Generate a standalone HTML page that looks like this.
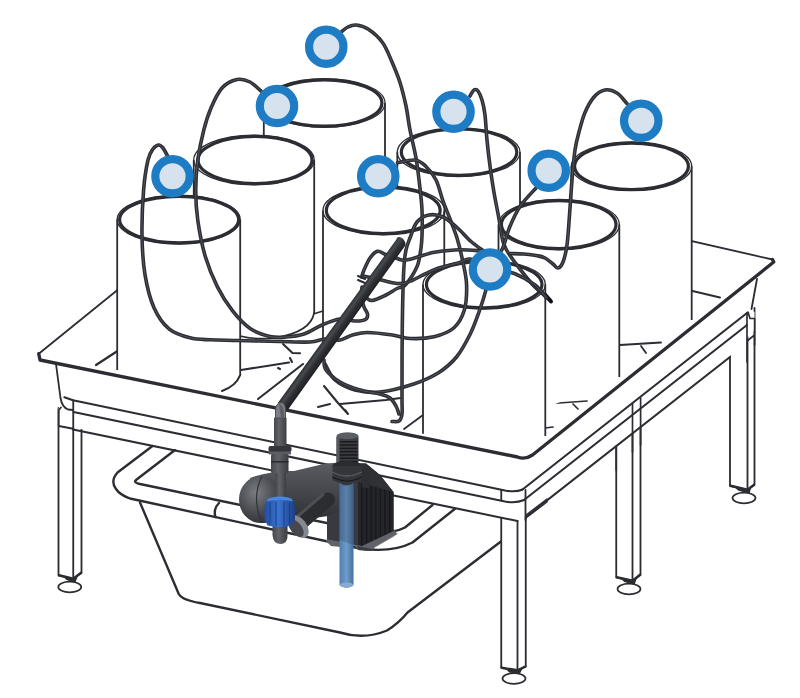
<!DOCTYPE html>
<html><head><meta charset="utf-8"><title>Diagram</title>
<style>
html,body{margin:0;padding:0;background:#fff;}
body{width:800px;height:698px;overflow:hidden;font-family:"Liberation Sans",sans-serif;}
svg{display:block;}
</style></head><body>
<svg width="800" height="698" viewBox="0 0 800 698">
<defs>
<linearGradient id="gPipeV" x1="0" x2="1" y1="0" y2="0">
<stop offset="0" stop-color="#45474c"/><stop offset="0.4" stop-color="#606368"/><stop offset="1" stop-color="#3b3d42"/>
</linearGradient>
<linearGradient id="gBlueTube" x1="0" x2="1" y1="0" y2="0">
<stop offset="0" stop-color="#4f7fb3"/><stop offset="0.5" stop-color="#6f9bc9"/><stop offset="1" stop-color="#456f9f"/>
</linearGradient>
<radialGradient id="gDome" cx="0.4" cy="0.35" r="0.7">
<stop offset="0" stop-color="#7a7d83"/><stop offset="0.6" stop-color="#4a4c51"/><stop offset="1" stop-color="#2e3034"/>
</radialGradient>
<linearGradient id="gBody" x1="0" x2="0" y1="0" y2="1">
<stop offset="0" stop-color="#5a5c61"/><stop offset="0.5" stop-color="#44464b"/><stop offset="1" stop-color="#2b2d31"/>
</linearGradient>
<linearGradient id="gBlue" x1="0" x2="1" y1="0" y2="0">
<stop offset="0" stop-color="#1f4fa3"/><stop offset="0.45" stop-color="#3b74d0"/><stop offset="1" stop-color="#1b3f86"/>
</linearGradient>
<linearGradient id="gBlackPipe" gradientUnits="userSpaceOnUse" x1="277.8" y1="402.9" x2="287.8" y2="410.1">
<stop offset="0" stop-color="#2b2d31"/><stop offset="0.28" stop-color="#474a4f"/><stop offset="0.55" stop-color="#2f3135"/><stop offset="1" stop-color="#1d1f22"/>
</linearGradient>
</defs>
<rect width="800" height="698" fill="#fff"/>
<ellipse cx="744.0" cy="498" rx="11.5" ry="5.3" fill="#fff" stroke="#2b2d33" stroke-width="1.7"/><path d="M734,486.5 L747.5,490.5 L751.5,486.5 L749.5,494 L738,490.5 Z" fill="#2b2d33"/><path d="M730,352 L730,486 L747.5,490 L754.5,485 L754.5,308 L747.5,312 Z" fill="#fff" stroke="none"/><path d="M730,352 L730,486 L747.5,490 L754.5,485 L754.5,308 M747.5,312 L747.5,490" fill="none" stroke="#2b2d33" stroke-width="1.82" stroke-linecap="round" stroke-linejoin="round" /><path d="M730.5,485.7 L747.5,489.7 L754.0,484.7" fill="none" stroke="#2b2d33" stroke-width="2.24" stroke-linecap="round" stroke-linejoin="round" />
<ellipse cx="629.0" cy="589" rx="11.5" ry="5.3" fill="#fff" stroke="#2b2d33" stroke-width="1.7"/><path d="M620.25,578.0 L632.5,581.5 L637.5,576.5 L634.5,585 L624.25,582.0 Z" fill="#2b2d33"/><path d="M616.25,446 L616.25,577.5 L632.5,581 L640.5,575 L640.5,398 L632.5,400 Z" fill="#fff" stroke="none"/><path d="M616.25,446 L616.25,577.5 L632.5,581 L640.5,575 L640.5,398 M632.5,400 L632.5,581" fill="none" stroke="#2b2d33" stroke-width="1.82" stroke-linecap="round" stroke-linejoin="round" /><path d="M616.75,577.2 L632.5,580.7 L640.0,574.7" fill="none" stroke="#2b2d33" stroke-width="2.24" stroke-linecap="round" stroke-linejoin="round" />
<ellipse cx="69.75" cy="587" rx="11.5" ry="5.3" fill="#fff" stroke="#2b2d33" stroke-width="1.7"/><path d="M62.5,576.0 L73.25,579.5 L78.5,574.5 L75.25,583 L66.5,580.0 Z" fill="#2b2d33"/><path d="M58.5,408 L58.5,575.5 L73.25,579 L81.5,573 L81.5,428 L73.25,400 Z" fill="#fff" stroke="none"/><path d="M58.5,408 L58.5,575.5 L73.25,579 L81.5,573 L81.5,428 M73.25,400 L73.25,579" fill="none" stroke="#2b2d33" stroke-width="1.82" stroke-linecap="round" stroke-linejoin="round" /><path d="M59.0,575.2 L73.25,578.7 L81.0,572.7" fill="none" stroke="#2b2d33" stroke-width="2.24" stroke-linecap="round" stroke-linejoin="round" />
<path d="M152.5,446 L117.5,472.5 Q110,481 116,489 Q120,495 130,498.5 L140,502.5 L178.75,594 Q182,600 200,603 L340,632.5 Q364,640 387,630.5 Q399,623 407.5,612.5 L501.25,541.25 L501,480 L200,420 Z" fill="#fff"/>
<path d="M152.5,446 L117.5,472.5 Q110,481 116,489 Q120,495 130,498.5 L360,548.5 Q392,553 412.5,542.5 L455,508.75" fill="none" stroke="#2b2d33" stroke-width="2.38" stroke-linecap="round" stroke-linejoin="round" />
<path d="M175,450 L136,480 Q133,482.5 140,484 L365,531 Q390,535 405,527.5 L432.5,505" fill="none" stroke="#2b2d33" stroke-width="2.38" stroke-linecap="round" stroke-linejoin="round" />
<path d="M140,502.5 L178.75,594 Q182,600 200,603 L340,632.5 Q364,640 387,630.5 Q399,623 407.5,612.5 L501.25,541.25" fill="none" stroke="#2b2d33" stroke-width="2.38" stroke-linecap="round" stroke-linejoin="round" />
<path d="M219,503 Q213,509 215.5,517" fill="none" stroke="#2b2d33" stroke-width="2.38" stroke-linecap="round" stroke-linejoin="round" />
<ellipse cx="514.0" cy="678.5" rx="11.5" ry="5.3" fill="#fff" stroke="#2b2d33" stroke-width="1.7"/><path d="M505.25,668.5 L517.5,671.0 L522.75,668.25 L519.5,674.5 L509.25,672.5 Z" fill="#2b2d33"/><path d="M501.25,491 L501.25,668 L517.5,670.5 L525.75,666.75 L525.75,490 L517.5,521 Z" fill="#fff" stroke="none"/><path d="M501.25,491 L501.25,668 L517.5,670.5 L525.75,666.75 L525.75,490 M517.5,521 L517.5,670.5" fill="none" stroke="#2b2d33" stroke-width="1.82" stroke-linecap="round" stroke-linejoin="round" /><path d="M501.75,667.7 L517.5,670.2 L525.25,666.45" fill="none" stroke="#2b2d33" stroke-width="2.24" stroke-linecap="round" stroke-linejoin="round" />
<path d="M40,360 L518,456.5 L532.5,455 L773.75,262 L756,280 L751,310 L754.5,312 L754.5,330 L730,356 L525,517.5 L517.5,521 L81,429 L73,428 L58.5,426 L58.5,409 L61,400 L56,364 Z" fill="#fff"/>
<path d="M56,364 L60.5,398 Q62,407 68,409.5 L73,410" fill="none" stroke="#2b2d33" stroke-width="1.82" stroke-linecap="round" stroke-linejoin="round" />
<path d="M58.75,426 L58.75,410 L61,407.5" fill="none" stroke="#2b2d33" stroke-width="1.82" stroke-linecap="round" stroke-linejoin="round" />
<path d="M58.75,426 L73.25,428.75" fill="none" stroke="#2b2d33" stroke-width="1.82" stroke-linecap="round" stroke-linejoin="round" />
<path d="M64.4,397.3 L73,400.2 L505,490.5 Q516,492.5 522.5,489.5" fill="none" stroke="#2b2d33" stroke-width="2.1" stroke-linecap="round" stroke-linejoin="round" />
<path d="M73.5,412 L505,501.5 Q516,503.5 524,500" fill="none" stroke="#2b2d33" stroke-width="2.1" stroke-linecap="round" stroke-linejoin="round" />
<path d="M73,429.5 L517.5,521" fill="none" stroke="#2b2d33" stroke-width="2.1" stroke-linecap="round" stroke-linejoin="round" />
<path d="M73.25,400.5 L73.25,428.75" fill="none" stroke="#2b2d33" stroke-width="1.82" stroke-linecap="round" stroke-linejoin="round" />
<path d="M522.5,489.5 L747,313" fill="none" stroke="#2b2d33" stroke-width="2.1" stroke-linecap="round" stroke-linejoin="round" />
<path d="M524,500 L747,325" fill="none" stroke="#2b2d33" stroke-width="2.1" stroke-linecap="round" stroke-linejoin="round" />
<path d="M525.75,517 L730,357" fill="none" stroke="#2b2d33" stroke-width="2.1" stroke-linecap="round" stroke-linejoin="round" />
<path d="M501.25,490 L501.25,500 M525.5,490 L525.5,520" fill="none" stroke="#2b2d33" stroke-width="1.82" stroke-linecap="round" stroke-linejoin="round" />
<path d="M757,279 L751.5,309" fill="none" stroke="#2b2d33" stroke-width="1.82" stroke-linecap="round" stroke-linejoin="round" />
<path d="M747,312.5 L747,362 M754.6,318.5 L754.6,345 M748,312 L750,318.5 L754.6,318.5 M754.6,335 L747,341" fill="none" stroke="#2b2d33" stroke-width="1.68" stroke-linecap="round" stroke-linejoin="round" />
<path d="M526,515 L547,499 L547,502 L526,518" fill="none" stroke="#2b2d33" stroke-width="1.4" stroke-linecap="round" stroke-linejoin="round" />
<path d="M632.5,403 L632.5,452 M640.6,398 L640.6,445 M616.25,446 L616.25,470" fill="none" stroke="#2b2d33" stroke-width="1.68" stroke-linecap="round" stroke-linejoin="round" />
<path d="M38.75,353.75 L290.7,149.7 L772.5,259.5 L773.75,262 L532.5,455 Q525,460 517.5,457 L40,360 Z" fill="#fff"/>
<path d="M38.75,353.75 L290.7,149.7 L772.5,259.5" fill="none" stroke="#2b2d33" stroke-width="1.82" stroke-linecap="round" stroke-linejoin="round" />
<path d="M96,365 L117.5,351" fill="none" stroke="#2b2d33" stroke-width="2.24" stroke-linecap="round" stroke-linejoin="round" />
<path d="M692.5,291 L720,297.5" fill="none" stroke="#2b2d33" stroke-width="1.96" stroke-linecap="round" stroke-linejoin="round" />
<path d="M620,345 L661,342.5 M641,346 L646,353" fill="none" stroke="#2b2d33" stroke-width="1.82" stroke-linecap="round" stroke-linejoin="round" />
<path d="M545,404 L587,401 M573,404 L578,409 M545,428 L553,427" fill="none" stroke="#2b2d33" stroke-width="1.68" stroke-linecap="round" stroke-linejoin="round" />
<path d="M404,429 L423,415" fill="none" stroke="#2b2d33" stroke-width="1.82" stroke-linecap="round" stroke-linejoin="round" />
<path d="M241,370 L289,362.5 M258,399 L303,364 M222,391 Q236,386 240.2,375" fill="none" stroke="#2b2d33" stroke-width="2.1" stroke-linecap="round" stroke-linejoin="round" />
<path d="M283,344 L292.5,353 L300,353.3 M290,358 L292,362 M278,368 L280,369" fill="none" stroke="#2b2d33" stroke-width="2.1" stroke-linecap="round" stroke-linejoin="round" />
<path d="M340,404 L386,400 L422,395 M324,386 L338,403 L348,414 M318,407 L330,404 M345,410 L348,414" fill="none" stroke="#2b2d33" stroke-width="2.1" stroke-linecap="round" stroke-linejoin="round" />
<path d="M314.2,282.5 L323,282.5 M314.2,313.75 L323,311" fill="none" stroke="#2b2d33" stroke-width="1.68" stroke-linecap="round" stroke-linejoin="round" />
<g><path d="M263.8,103 L263.8,300 L385,300 L385,103 A60.599999999999994,24.4 0 0 0 263.8,103 Z" fill="#fff" stroke="none"/><ellipse cx="324.4" cy="103" rx="60.599999999999994" ry="24.4" fill="#fff" stroke="#2b2d33" stroke-width="1.3"/><path d="M263.8,103 L263.8,300 M385,103 L385,300" fill="none" stroke="#2b2d33" stroke-width="1.8"/><ellipse cx="324.4" cy="103" rx="57.5" ry="23.2" fill="#fff" stroke="#2b2d33" stroke-width="3.2"/></g>
<g><path d="M397.3,152.2 L397.3,330 L520,330 L520,152.2 A61.349999999999994,24.4 0 0 0 397.3,152.2 Z" fill="#fff" stroke="none"/><ellipse cx="458.65" cy="152.2" rx="61.349999999999994" ry="24.4" fill="#fff" stroke="#2b2d33" stroke-width="1.3"/><path d="M397.3,152.2 L397.3,330 M520,152.2 L520,330" fill="none" stroke="#2b2d33" stroke-width="1.8"/><ellipse cx="459.1" cy="152.2" rx="57.75" ry="23.2" fill="#fff" stroke="#2b2d33" stroke-width="3.2"/></g>
<g><path d="M571.3,166.3 L571.3,345 L691.7,320 L691.7,166.3 A60.200000000000045,24.4 0 0 0 571.3,166.3 Z" fill="#fff" stroke="none"/><ellipse cx="631.5" cy="166.3" rx="60.200000000000045" ry="24.4" fill="#fff" stroke="#2b2d33" stroke-width="1.3"/><path d="M571.3,166.3 L571.3,345 M691.7,166.3 L691.7,320" fill="none" stroke="#2b2d33" stroke-width="1.8"/><ellipse cx="631.5" cy="166.3" rx="56.9" ry="23.2" fill="#fff" stroke="#2b2d33" stroke-width="3.2"/></g>
<g><path d="M193.75,160 L193.75,330 L314.2,313 L314.2,160 A60.224999999999994,24.8 0 0 0 193.75,160 Z" fill="#fff" stroke="none"/><ellipse cx="253.975" cy="160" rx="60.224999999999994" ry="24.8" fill="#fff" stroke="#2b2d33" stroke-width="1.3"/><path d="M193.75,160 L193.75,330 M314.2,160 L314.2,313" fill="none" stroke="#2b2d33" stroke-width="1.8"/><ellipse cx="255" cy="160" rx="57" ry="23.6" fill="#fff" stroke="#2b2d33" stroke-width="3.2"/><path d="M314.2,312.5 Q311,332 275,338 Q255,340 240,336" fill="none" stroke="#2b2d33" stroke-width="1.68" stroke-linecap="round" stroke-linejoin="round" /></g>
<g><path d="M323,210.4 L323,358 L444.3,420 L444.3,210.4 A60.650000000000006,24.4 0 0 0 323,210.4 Z" fill="#fff" stroke="none"/><ellipse cx="383.65" cy="210.4" rx="60.650000000000006" ry="24.4" fill="#fff" stroke="#2b2d33" stroke-width="1.3"/><path d="M323,210.4 L323,358 M444.3,210.4 L444.3,420" fill="none" stroke="#2b2d33" stroke-width="1.8"/><ellipse cx="383.25" cy="210.4" rx="56.9" ry="23.2" fill="#fff" stroke="#2b2d33" stroke-width="3.2"/><path d="M323,358 Q326,374 344,384 Q364,392 388,396" fill="none" stroke="#2b2d33" stroke-width="1.54" stroke-linecap="round" stroke-linejoin="round" /></g>
<g><path d="M498.5,224.55 L498.5,428 L619.3,377 L619.3,224.55 A60.39999999999998,25.2 0 0 0 498.5,224.55 Z" fill="#fff" stroke="none"/><ellipse cx="558.9" cy="224.55" rx="60.39999999999998" ry="25.2" fill="#fff" stroke="#2b2d33" stroke-width="1.3"/><path d="M498.5,224.55 L498.5,428 M619.3,224.55 L619.3,377" fill="none" stroke="#2b2d33" stroke-width="1.8"/><ellipse cx="558.7" cy="224.55" rx="57.3" ry="24" fill="#fff" stroke="#2b2d33" stroke-width="3.2"/></g>
<g><path d="M117.2,219.6 L117.2,370 L240.2,375 L240.2,219.6 A61.49999999999999,24.4 0 0 0 117.2,219.6 Z" fill="#fff" stroke="none"/><ellipse cx="178.7" cy="219.6" rx="61.49999999999999" ry="24.4" fill="#fff" stroke="#2b2d33" stroke-width="1.3"/><path d="M117.2,219.6 L117.2,370 M240.2,219.6 L240.2,375" fill="none" stroke="#2b2d33" stroke-width="1.8"/><ellipse cx="179.1" cy="219.6" rx="59.5" ry="23.2" fill="#fff" stroke="#2b2d33" stroke-width="3.2"/></g>
<g><path d="M423,284.6 L423,433.75 L545.3,436 L545.3,284.6 A61.14999999999998,24.4 0 0 0 423,284.6 Z" fill="#fff" stroke="none"/><ellipse cx="484.15" cy="284.6" rx="61.14999999999998" ry="24.4" fill="#fff" stroke="#2b2d33" stroke-width="1.3"/><path d="M423,284.6 L423,433.75 M545.3,284.6 L545.3,436" fill="none" stroke="#2b2d33" stroke-width="1.8"/><ellipse cx="484.2" cy="284.6" rx="57.75" ry="23.2" fill="#fff" stroke="#2b2d33" stroke-width="3.2"/></g>
<path d="M40,357 L517.5,453.5 Q525,456 532.5,449 L773.75,262 L532.5,455 Q525,460 517.5,457 L40,360 Z" fill="#fff"/>
<path d="M38.75,353.75 L40,360 L517.5,457 Q525,460 532.5,455 L773.75,262 L772.5,259.5" fill="none" stroke="#2b2d33" stroke-width="3.36" stroke-linecap="round" stroke-linejoin="round" />
<path d="M340,33 C341.3,32.0 345.3,28.3 348,27 C350.7,25.7 352.7,24.7 356,25 C359.3,25.3 363.6,26.1 368,29 C372.4,31.9 378.5,37.0 382.5,42.5 C386.5,48.0 389.1,55.3 392,62 C394.9,68.7 397.7,75.2 400,82.5 C402.3,89.8 404.3,98.1 406,106 C407.7,113.9 408.3,121.3 410,130 C411.7,138.7 414.4,149.0 416,158 C417.6,167.0 418.5,175.3 419.5,184 C420.5,192.7 421.6,201.3 422,210 C422.4,218.7 422.2,229.7 422,236 C421.8,242.3 421.7,243.3 421,248 C420.3,252.7 419.5,259.3 418,264 C416.5,268.7 414.3,272.3 412,276 C409.7,279.7 406.5,283.9 404,286 C401.5,288.1 400.2,286.9 397,288.5 C393.8,290.1 389.2,293.5 385,295.5 C380.8,297.5 375.3,300.2 372,300.5 C368.7,300.8 366.2,297.6 365,297" fill="none" stroke="#2b2d33" stroke-width="3.6" stroke-linecap="round" stroke-linejoin="round"/><path d="M340,33 C341.3,32.0 345.3,28.3 348,27 C350.7,25.7 352.7,24.7 356,25 C359.3,25.3 363.6,26.1 368,29 C372.4,31.9 378.5,37.0 382.5,42.5 C386.5,48.0 389.1,55.3 392,62 C394.9,68.7 397.7,75.2 400,82.5 C402.3,89.8 404.3,98.1 406,106 C407.7,113.9 408.3,121.3 410,130 C411.7,138.7 414.4,149.0 416,158 C417.6,167.0 418.5,175.3 419.5,184 C420.5,192.7 421.6,201.3 422,210 C422.4,218.7 422.2,229.7 422,236 C421.8,242.3 421.7,243.3 421,248 C420.3,252.7 419.5,259.3 418,264 C416.5,268.7 414.3,272.3 412,276 C409.7,279.7 406.5,283.9 404,286 C401.5,288.1 400.2,286.9 397,288.5 C393.8,290.1 389.2,293.5 385,295.5 C380.8,297.5 375.3,300.2 372,300.5 C368.7,300.8 366.2,297.6 365,297" fill="none" stroke="#63666d" stroke-width="0.7" stroke-linecap="round" stroke-linejoin="round"/>
<path d="M262,92 C260.0,90.3 254.2,84.1 250,82 C245.8,79.9 241.7,78.5 237,79.5 C232.3,80.5 226.3,83.2 222,88 C217.7,92.8 214.0,101.0 211,108 C208.0,115.0 206.0,121.3 203.8,130 C201.6,138.7 199.2,150.0 197.8,160 C196.5,170.0 195.7,179.9 195.7,190 C195.7,200.1 196.2,209.3 197.8,220.4 C199.4,231.5 202.1,245.5 205.3,256.5 C208.6,267.5 212.8,277.6 217.3,286.6 C221.8,295.6 226.9,303.7 232.4,310.7 C237.9,317.7 244.2,324.5 250.5,328.8 C256.8,333.1 264.1,335.1 270,336.5 C275.9,337.9 280.3,337.4 286,337 C291.7,336.6 298.0,336.0 304,334 C310.0,332.0 316.0,327.5 322,325 C328.0,322.5 334.5,319.7 340,319 C345.5,318.3 350.8,320.9 355,321 C359.2,321.1 363.4,320.7 365.5,319.5 C367.6,318.3 367.8,316.1 367.5,314 C367.2,311.9 365.0,309.8 364,307 C363.0,304.2 361.8,300.3 361.5,297 C361.2,293.7 361.9,288.7 362,287" fill="none" stroke="#2b2d33" stroke-width="3.6" stroke-linecap="round" stroke-linejoin="round"/><path d="M262,92 C260.0,90.3 254.2,84.1 250,82 C245.8,79.9 241.7,78.5 237,79.5 C232.3,80.5 226.3,83.2 222,88 C217.7,92.8 214.0,101.0 211,108 C208.0,115.0 206.0,121.3 203.8,130 C201.6,138.7 199.2,150.0 197.8,160 C196.5,170.0 195.7,179.9 195.7,190 C195.7,200.1 196.2,209.3 197.8,220.4 C199.4,231.5 202.1,245.5 205.3,256.5 C208.6,267.5 212.8,277.6 217.3,286.6 C221.8,295.6 226.9,303.7 232.4,310.7 C237.9,317.7 244.2,324.5 250.5,328.8 C256.8,333.1 264.1,335.1 270,336.5 C275.9,337.9 280.3,337.4 286,337 C291.7,336.6 298.0,336.0 304,334 C310.0,332.0 316.0,327.5 322,325 C328.0,322.5 334.5,319.7 340,319 C345.5,318.3 350.8,320.9 355,321 C359.2,321.1 363.4,320.7 365.5,319.5 C367.6,318.3 367.8,316.1 367.5,314 C367.2,311.9 365.0,309.8 364,307 C363.0,304.2 361.8,300.3 361.5,297 C361.2,293.7 361.9,288.7 362,287" fill="none" stroke="#63666d" stroke-width="0.7" stroke-linecap="round" stroke-linejoin="round"/>
<path d="M167.6,156 C166.8,154.7 164.5,149.8 163,148 C161.5,146.2 160.3,144.8 158.6,145 C156.9,145.2 154.8,146.5 153,149 C151.2,151.5 149.6,153.2 148,160 C146.4,166.8 144.6,177.5 143.6,190 C142.6,202.5 141.8,220.9 142,235 C142.2,249.1 143.0,262.5 145,274.6 C147.0,286.7 150.0,298.7 154,307.7 C158.0,316.7 163.0,323.8 169,328.8 C175.0,333.8 183.2,336.0 190,337.8 C196.8,339.6 202.0,339.4 210,339.8 C218.0,340.2 226.3,340.2 238,340.5 C249.7,340.8 268.0,341.2 280,341.5 C292.0,341.8 302.5,342.4 310,342 C317.5,341.6 320.0,339.3 325,339 C330.0,338.7 335.4,340.7 340,340 C344.6,339.3 347.9,336.2 352.5,335 C357.1,333.8 360.8,332.5 367.5,332.5 C374.2,332.5 385.4,334.0 392.5,335 C399.6,336.0 403.1,338.2 410,338.5 C416.9,338.8 426.7,338.5 434,336.75 C441.3,335.0 448.9,332.2 454,327.75 C459.1,323.2 462.3,316.9 464.4,309.75 C466.5,302.6 466.8,292.9 466.6,285 C466.4,277.1 464.6,270.3 463,262.5 C461.4,254.7 459.2,245.2 457,238 C454.8,230.8 452.3,225.2 450,219 C447.7,212.8 445.3,207.5 443,201 C440.7,194.5 438.9,185.8 436,180 C433.1,174.2 429.0,169.3 425.5,166 C422.0,162.7 419.7,160.5 415,160 C410.3,159.5 400.4,162.3 397.5,162.75" fill="none" stroke="#2b2d33" stroke-width="3.6" stroke-linecap="round" stroke-linejoin="round"/><path d="M167.6,156 C166.8,154.7 164.5,149.8 163,148 C161.5,146.2 160.3,144.8 158.6,145 C156.9,145.2 154.8,146.5 153,149 C151.2,151.5 149.6,153.2 148,160 C146.4,166.8 144.6,177.5 143.6,190 C142.6,202.5 141.8,220.9 142,235 C142.2,249.1 143.0,262.5 145,274.6 C147.0,286.7 150.0,298.7 154,307.7 C158.0,316.7 163.0,323.8 169,328.8 C175.0,333.8 183.2,336.0 190,337.8 C196.8,339.6 202.0,339.4 210,339.8 C218.0,340.2 226.3,340.2 238,340.5 C249.7,340.8 268.0,341.2 280,341.5 C292.0,341.8 302.5,342.4 310,342 C317.5,341.6 320.0,339.3 325,339 C330.0,338.7 335.4,340.7 340,340 C344.6,339.3 347.9,336.2 352.5,335 C357.1,333.8 360.8,332.5 367.5,332.5 C374.2,332.5 385.4,334.0 392.5,335 C399.6,336.0 403.1,338.2 410,338.5 C416.9,338.8 426.7,338.5 434,336.75 C441.3,335.0 448.9,332.2 454,327.75 C459.1,323.2 462.3,316.9 464.4,309.75 C466.5,302.6 466.8,292.9 466.6,285 C466.4,277.1 464.6,270.3 463,262.5 C461.4,254.7 459.2,245.2 457,238 C454.8,230.8 452.3,225.2 450,219 C447.7,212.8 445.3,207.5 443,201 C440.7,194.5 438.9,185.8 436,180 C433.1,174.2 429.0,169.3 425.5,166 C422.0,162.7 419.7,160.5 415,160 C410.3,159.5 400.4,162.3 397.5,162.75" fill="none" stroke="#63666d" stroke-width="0.7" stroke-linecap="round" stroke-linejoin="round"/>
<path d="M470,96 C470.7,95.0 472.7,90.8 474,90 C475.3,89.2 476.7,89.3 478,91 C479.3,92.7 480.8,96.0 482,100 C483.2,104.0 484.2,108.3 485,115 C485.8,121.7 486.2,131.5 487,140 C487.8,148.5 488.8,157.2 490,166 C491.2,174.8 492.5,183.7 494,192.5 C495.5,201.3 497.6,211.1 499,219 C500.4,226.9 501.4,235.0 502.6,240 C503.8,245.0 503.9,245.2 506,249 C508.1,252.8 510.5,256.5 515,262.5 C519.5,268.5 527.2,278.8 533,285 C538.8,291.2 547.2,297.5 550,300" fill="none" stroke="#2b2d33" stroke-width="3.6" stroke-linecap="round" stroke-linejoin="round"/><path d="M470,96 C470.7,95.0 472.7,90.8 474,90 C475.3,89.2 476.7,89.3 478,91 C479.3,92.7 480.8,96.0 482,100 C483.2,104.0 484.2,108.3 485,115 C485.8,121.7 486.2,131.5 487,140 C487.8,148.5 488.8,157.2 490,166 C491.2,174.8 492.5,183.7 494,192.5 C495.5,201.3 497.6,211.1 499,219 C500.4,226.9 501.4,235.0 502.6,240 C503.8,245.0 503.9,245.2 506,249 C508.1,252.8 510.5,256.5 515,262.5 C519.5,268.5 527.2,278.8 533,285 C538.8,291.2 547.2,297.5 550,300" fill="none" stroke="#63666d" stroke-width="0.7" stroke-linecap="round" stroke-linejoin="round"/>
<path d="M545,294.5 L551,301.5" stroke="#111" stroke-width="4" stroke-linecap="round"/>
<path d="M492,268 C495.8,269.0 507.8,270.9 515,273.75 C522.2,276.6 529.8,281.0 535,285 C540.2,289.0 544.6,295.8 546.5,298" fill="none" stroke="#2b2d33" stroke-width="3.6" stroke-linecap="round" stroke-linejoin="round"/><path d="M492,268 C495.8,269.0 507.8,270.9 515,273.75 C522.2,276.6 529.8,281.0 535,285 C540.2,289.0 544.6,295.8 546.5,298" fill="none" stroke="#63666d" stroke-width="0.7" stroke-linecap="round" stroke-linejoin="round"/>
<path d="M536,188 C533.3,191.1 524.4,199.9 520,206.5 C515.6,213.1 512.4,220.5 509.5,227.5 C506.6,234.5 505.8,241.4 502.5,248.5 C499.2,255.6 492.8,263.0 490,270 C487.2,277.0 487.6,283.6 485.75,290.6 C483.9,297.6 481.6,304.7 479,312 C476.4,319.3 473.8,327.0 470,334.5 C466.2,342.0 461.8,350.6 456.5,357 C451.2,363.4 445.6,368.2 438.5,372.75 C431.4,377.2 423.5,380.8 413.75,384 C404.0,387.2 389.8,391.0 380,392 C370.2,393.0 362.5,392.0 355,390 C347.5,388.0 340.0,384.3 335,380 C330.0,375.7 326.7,366.7 325,364" fill="none" stroke="#2b2d33" stroke-width="3.6" stroke-linecap="round" stroke-linejoin="round"/><path d="M536,188 C533.3,191.1 524.4,199.9 520,206.5 C515.6,213.1 512.4,220.5 509.5,227.5 C506.6,234.5 505.8,241.4 502.5,248.5 C499.2,255.6 492.8,263.0 490,270 C487.2,277.0 487.6,283.6 485.75,290.6 C483.9,297.6 481.6,304.7 479,312 C476.4,319.3 473.8,327.0 470,334.5 C466.2,342.0 461.8,350.6 456.5,357 C451.2,363.4 445.6,368.2 438.5,372.75 C431.4,377.2 423.5,380.8 413.75,384 C404.0,387.2 389.8,391.0 380,392 C370.2,393.0 362.5,392.0 355,390 C347.5,388.0 340.0,384.3 335,380 C330.0,375.7 326.7,366.7 325,364" fill="none" stroke="#63666d" stroke-width="0.7" stroke-linecap="round" stroke-linejoin="round"/>
<path d="M627,103.5 C625.3,101.8 620.7,95.2 617,93 C613.3,90.8 608.8,89.3 605,90 C601.2,90.7 597.3,93.2 594,97 C590.7,100.8 587.5,106.7 585,112.5 C582.5,118.3 580.7,125.8 579,132 C577.3,138.2 576.2,142.0 575,150 C573.8,158.0 572.9,169.2 572,180 C571.1,190.8 570.3,204.2 569.5,215 C568.7,225.8 568.1,237.2 567,245 C565.9,252.8 564.5,258.2 563,262 C561.5,265.8 559.7,267.7 558,268 C556.3,268.3 555.2,265.7 553,264 C550.8,262.3 547.6,259.4 545,258 C542.4,256.6 541.0,256.4 537.5,255.75 C534.0,255.1 528.5,254.4 524,254 C519.5,253.6 512.8,253.6 510.5,253.5" fill="none" stroke="#2b2d33" stroke-width="3.6" stroke-linecap="round" stroke-linejoin="round"/><path d="M627,103.5 C625.3,101.8 620.7,95.2 617,93 C613.3,90.8 608.8,89.3 605,90 C601.2,90.7 597.3,93.2 594,97 C590.7,100.8 587.5,106.7 585,112.5 C582.5,118.3 580.7,125.8 579,132 C577.3,138.2 576.2,142.0 575,150 C573.8,158.0 572.9,169.2 572,180 C571.1,190.8 570.3,204.2 569.5,215 C568.7,225.8 568.1,237.2 567,245 C565.9,252.8 564.5,258.2 563,262 C561.5,265.8 559.7,267.7 558,268 C556.3,268.3 555.2,265.7 553,264 C550.8,262.3 547.6,259.4 545,258 C542.4,256.6 541.0,256.4 537.5,255.75 C534.0,255.1 528.5,254.4 524,254 C519.5,253.6 512.8,253.6 510.5,253.5" fill="none" stroke="#63666d" stroke-width="0.7" stroke-linecap="round" stroke-linejoin="round"/>
<path d="M485,252 C482.7,250.2 475.7,245.6 471,241.5 C466.3,237.4 461.7,231.6 457,227.5 C452.3,223.4 447.7,219.1 443,217 C438.3,214.9 433.3,214.2 429,215 C424.7,215.8 420.2,218.2 417,222 C413.8,225.8 411.8,233.3 410,238 C408.2,242.7 407.0,244.7 406,250 C405.0,255.3 404.4,256.7 403.75,270 C403.1,283.3 402.5,308.8 402.25,330 C402.0,351.2 402.0,383.0 402,397 C402.0,411.0 402.5,410.0 402,414 C401.5,418.0 400.7,419.8 399,421 C397.3,422.2 393.2,421.4 392,421.5" fill="none" stroke="#2b2d33" stroke-width="3.6" stroke-linecap="round" stroke-linejoin="round"/><path d="M485,252 C482.7,250.2 475.7,245.6 471,241.5 C466.3,237.4 461.7,231.6 457,227.5 C452.3,223.4 447.7,219.1 443,217 C438.3,214.9 433.3,214.2 429,215 C424.7,215.8 420.2,218.2 417,222 C413.8,225.8 411.8,233.3 410,238 C408.2,242.7 407.0,244.7 406,250 C405.0,255.3 404.4,256.7 403.75,270 C403.1,283.3 402.5,308.8 402.25,330 C402.0,351.2 402.0,383.0 402,397 C402.0,411.0 402.5,410.0 402,414 C401.5,418.0 400.7,419.8 399,421 C397.3,422.2 393.2,421.4 392,421.5" fill="none" stroke="#63666d" stroke-width="0.7" stroke-linecap="round" stroke-linejoin="round"/>
<path d="M482,251 C478.3,250.8 467.7,249.6 460,249.75 C452.3,249.9 442.0,251.1 436,252 C430.0,252.9 428.0,253.9 424,255 C420.0,256.1 415.5,257.9 412,258.75 C408.5,259.6 406.0,260.5 403,260.25 C400.0,260.0 397.0,258.2 394,257.25 C391.0,256.2 387.8,255.2 385,254.25 C382.2,253.2 380.0,250.6 377.5,251.25 C375.0,251.9 372.2,254.9 370,258 C367.8,261.1 365.4,266.8 364,270 C362.6,273.2 362.1,275.8 361.75,277" fill="none" stroke="#2b2d33" stroke-width="3.6" stroke-linecap="round" stroke-linejoin="round"/><path d="M482,251 C478.3,250.8 467.7,249.6 460,249.75 C452.3,249.9 442.0,251.1 436,252 C430.0,252.9 428.0,253.9 424,255 C420.0,256.1 415.5,257.9 412,258.75 C408.5,259.6 406.0,260.5 403,260.25 C400.0,260.0 397.0,258.2 394,257.25 C391.0,256.2 387.8,255.2 385,254.25 C382.2,253.2 380.0,250.6 377.5,251.25 C375.0,251.9 372.2,254.9 370,258 C367.8,261.1 365.4,266.8 364,270 C362.6,273.2 362.1,275.8 361.75,277" fill="none" stroke="#63666d" stroke-width="0.7" stroke-linecap="round" stroke-linejoin="round"/>
<path d="M489,266 C485.8,264.8 474.9,259.6 470,259 C465.1,258.4 465.1,260.9 459.7,262.5 C454.3,264.1 443.4,266.5 437.5,268.5 C431.6,270.5 428.2,272.5 424,274.5 C419.8,276.5 415.5,279.0 412,280.5 C408.5,282.0 406.2,283.1 403,283.5 C399.8,283.9 396.8,283.5 392.5,282.75 C388.2,282.0 382.5,280.1 377.5,279 C372.5,277.9 365.0,276.5 362.5,276" fill="none" stroke="#2b2d33" stroke-width="3.6" stroke-linecap="round" stroke-linejoin="round"/><path d="M489,266 C485.8,264.8 474.9,259.6 470,259 C465.1,258.4 465.1,260.9 459.7,262.5 C454.3,264.1 443.4,266.5 437.5,268.5 C431.6,270.5 428.2,272.5 424,274.5 C419.8,276.5 415.5,279.0 412,280.5 C408.5,282.0 406.2,283.1 403,283.5 C399.8,283.9 396.8,283.5 392.5,282.75 C388.2,282.0 382.5,280.1 377.5,279 C372.5,277.9 365.0,276.5 362.5,276" fill="none" stroke="#63666d" stroke-width="0.7" stroke-linecap="round" stroke-linejoin="round"/>
<path d="M324,360 C324.3,361.7 323.3,366.3 326,370 C328.7,373.7 334.3,378.7 340,382 C345.7,385.3 353.3,388.0 360,390 C366.7,392.0 375.0,392.7 380,394 C385.0,395.3 387.3,396.0 390,398 C392.7,400.0 394.5,403.3 396,406 C397.5,408.7 398.5,412.7 399,414" fill="none" stroke="#2b2d33" stroke-width="3.6" stroke-linecap="round" stroke-linejoin="round"/><path d="M324,360 C324.3,361.7 323.3,366.3 326,370 C328.7,373.7 334.3,378.7 340,382 C345.7,385.3 353.3,388.0 360,390 C366.7,392.0 375.0,392.7 380,394 C385.0,395.3 387.3,396.0 390,398 C392.7,400.0 394.5,403.3 396,406 C397.5,408.7 398.5,412.7 399,414" fill="none" stroke="#63666d" stroke-width="0.7" stroke-linecap="round" stroke-linejoin="round"/>
<path d="M358,276 L365,279 M358,280 L365,283" fill="none" stroke="#2b2d33" stroke-width="2.1" stroke-linecap="round" stroke-linejoin="round" />
<path d="M396.4,239.4 C397.8,233.6 407.3,240 405.1,245.8 L287.8,410.1 L277.8,402.9 Z" fill="url(#gBlackPipe)"/>
<path d="M328,537 L362,546 L394,530 L397.5,534 L376,546 L371,551 L358,550 L355,546 L343,544 L341,547 L331,546 L326,541 Z" fill="#5f6268"/><path d="M357,546 L372,549 L393,537 L396,535 L376,546 L371,551 L358,550 Z" fill="#3a3c40"/><path d="M327,477 L340,463 L366,463.5 L380,475 L393.5,492 L393.5,531 L362,546 L327,539 Z" fill="#2a2c30"/><path d="M327,478 L358,482 L358,545 L327,539 Z" fill="#383a3f"/><path d="M358,482 L393.5,492 L393.5,531 L362,546 L358,545 Z" fill="#232528"/><path d="M362.0,483.0 L362.0,545.5" stroke="#16171a" stroke-width="1.2" fill="none"/><path d="M366.6,484.3 L366.6,543.3" stroke="#16171a" stroke-width="1.2" fill="none"/><path d="M371.2,485.6 L371.2,541.1" stroke="#16171a" stroke-width="1.2" fill="none"/><path d="M375.8,486.9 L375.8,538.9" stroke="#16171a" stroke-width="1.2" fill="none"/><path d="M380.4,488.2 L380.4,536.7" stroke="#16171a" stroke-width="1.2" fill="none"/><path d="M385.0,489.5 L385.0,534.5" stroke="#16171a" stroke-width="1.2" fill="none"/><path d="M389.6,490.8 L389.6,532.3" stroke="#16171a" stroke-width="1.2" fill="none"/><path d="M340,463 L366,463.5 L380,475 L393.5,492 L358,482 L327,478 Z" fill="#2f3135"/><path d="M250,478 Q272,470 294,471 L325.6,463.5 L340,462.5 L343,510 L328,516 L294,521 L262,523 Z" fill="url(#gBody)"/><ellipse cx="260.5" cy="499.5" rx="21.5" ry="23.5" fill="url(#gDome)"/><path d="M262,476 Q251,498 262,523" stroke="#303236" stroke-width="1.2" fill="none"/><path d="M328,499.5 L301,523" stroke="#2b2d31" stroke-width="14" stroke-linecap="round"/><path d="M323,494.5 L298,516" stroke="#4c4f55" stroke-width="3" stroke-linecap="round"/><ellipse cx="298.5" cy="526.5" rx="8" ry="13" fill="#85888e" transform="rotate(-38 298.5 526.5)"/><ellipse cx="296" cy="528" rx="5.5" ry="10.5" fill="#46484d" transform="rotate(-38 296 528)"/><path d="M336.5,437 Q336.5,432.5 347.5,432.5 Q358.5,432.5 358.5,437 L358.5,466 L336.5,466 Z" fill="#3b3d42"/><ellipse cx="347.5" cy="436" rx="11" ry="3.2" fill="#5a5d63"/><rect x="337.5" y="441.0" width="20" height="1.5" fill="#191a1d"/><rect x="337.5" y="444.3" width="20" height="1.5" fill="#191a1d"/><rect x="337.5" y="447.6" width="20" height="1.5" fill="#191a1d"/><rect x="337.5" y="450.9" width="20" height="1.5" fill="#191a1d"/><rect x="337.5" y="454.2" width="20" height="1.5" fill="#191a1d"/><rect x="337.5" y="457.5" width="20" height="1.5" fill="#191a1d"/><rect x="337.5" y="460.8" width="20" height="1.5" fill="#191a1d"/><path d="M336.5,437 L339.5,437 L339.5,466 L336.5,466 Z" fill="#55585e"/><ellipse cx="347" cy="466" rx="14.5" ry="5" fill="#2a2c30"/><path d="M332.5,466 L332.5,480 Q347,488 361.5,480 L361.5,466 Z" fill="#34363b"/><path d="M332.5,472 Q347,480 361.5,472" stroke="#5c5f65" stroke-width="1.3" fill="none"/><path d="M332.5,477 Q347,485 361.5,477" stroke="#17181b" stroke-width="1.2" fill="none"/><rect x="362" y="466" width="8" height="22" rx="2" fill="#2c2e32"/><path d="M339.5,483 L339.5,585 Q346.5,591 353.5,585 L353.5,483 Q346.5,488 339.5,483 Z" fill="url(#gBlueTube)"/><path d="M339.5,483 L339.5,540 L353.5,545 L353.5,483 Q346.5,488 339.5,483 Z" fill="#2b3a52" opacity="0.28"/><ellipse cx="346.5" cy="585" rx="7" ry="2.6" fill="#86acd4"/><path d="M281,402.5 Q275.5,404 275.5,411 L275.5,417 L274,418 L274,447 L286.5,447 L286.5,418 L285.5,417 L285.5,410 Q285,403 281,402.5 Z" fill="url(#gPipeV)"/><path d="M275.5,418 L275.5,411 Q275.5,403 281,402.5 Q285.5,403 285.5,410 L285.5,418 Z" fill="#7c7f85" stroke="#4a4c51" stroke-width="1"/><path d="M279,404 Q283,404 284,412 L284,418 L281,418 Z" fill="#5c5f64"/><rect x="268.5" y="446" width="23" height="6" rx="2" fill="#33353a"/><rect x="269" y="451.5" width="22" height="3" fill="#5a5d63"/><rect x="271" y="454" width="17.5" height="19" rx="1.5" fill="url(#gPipeV)"/><rect x="271" y="461" width="17.5" height="1.6" fill="#2a2c30"/><rect x="275.5" y="473" width="10.5" height="30" fill="url(#gPipeV)"/><path d="M272.5,523 L272.5,535 Q273,544 281,544 Q287.5,543 287.5,536 L287.5,523 Z" fill="url(#gPipeV)"/><path d="M268,498.5 Q280,494.5 291.5,498.5 L295,506 L295,519 L291.5,525.5 Q280,528.5 267.5,525.5 L264.5,519 L264.5,506 Z" fill="url(#gBlue)"/><path d="M268,498.5 Q280,494.5 291.5,498.5 L293,501.5 Q280,498 266.5,501.5 Z" fill="#4a86e0"/><path d="M270,503 L270,524 M276,502 L276,526 M284,502 L284,526 M289.5,503 L289.5,524" stroke="#1a3f86" stroke-width="1" fill="none"/>
<circle cx="326.25" cy="46.75" r="17.2" fill="#d6e3ee" stroke="#1e7cc4" stroke-width="8.2"/>
<circle cx="277" cy="106" r="17.2" fill="#d6e3ee" stroke="#1e7cc4" stroke-width="8.2"/>
<circle cx="172.5" cy="176.25" r="17.2" fill="#d6e3ee" stroke="#1e7cc4" stroke-width="8.2"/>
<circle cx="378.25" cy="176.25" r="17.2" fill="#d6e3ee" stroke="#1e7cc4" stroke-width="8.2"/>
<circle cx="453.5" cy="111.75" r="17.2" fill="#d6e3ee" stroke="#1e7cc4" stroke-width="8.2"/>
<circle cx="548.75" cy="170.75" r="17.2" fill="#d6e3ee" stroke="#1e7cc4" stroke-width="8.2"/>
<circle cx="641.25" cy="120.75" r="17.2" fill="#d6e3ee" stroke="#1e7cc4" stroke-width="8.2"/>
<circle cx="490" cy="269.5" r="17.2" fill="#d6e3ee" stroke="#1e7cc4" stroke-width="8.2"/>
</svg>
</body></html>
